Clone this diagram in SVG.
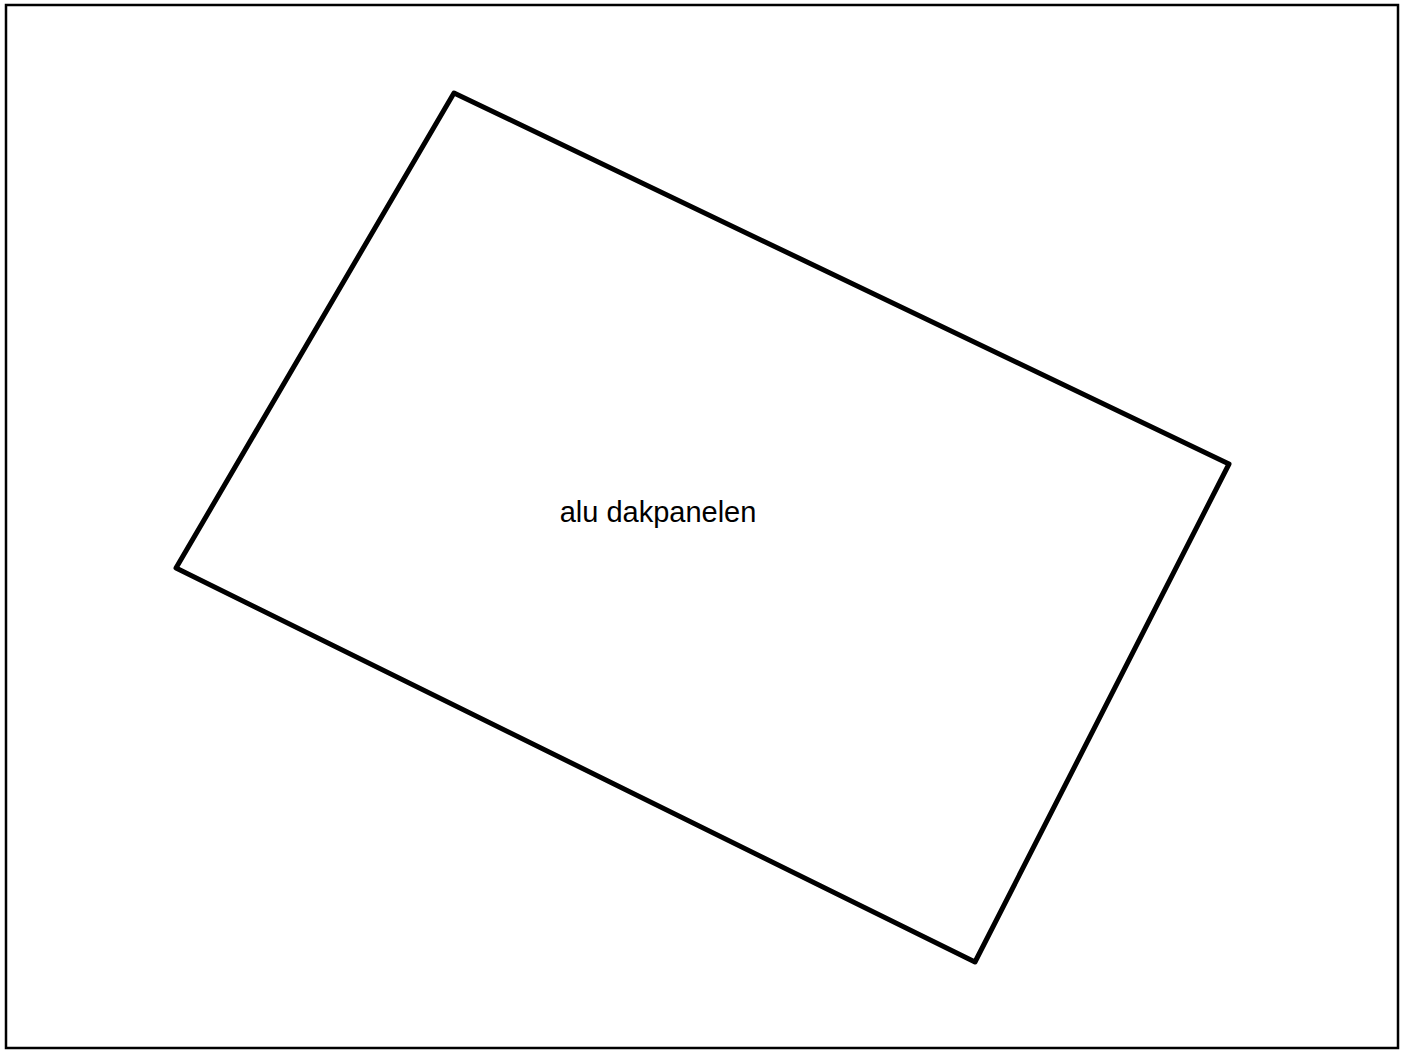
<svg xmlns="http://www.w3.org/2000/svg" width="1408" height="1050" viewBox="0 0 1408 1050">
<style>
.frame{fill:none;stroke:#000;stroke-width:2.5}
.panel{fill:#fff;stroke:#000;stroke-width:5;stroke-linejoin:round}
.lbl{font-family:"Liberation Sans",Arial,sans-serif;font-size:29px;fill:#000;text-anchor:middle}
</style>
<rect width="1408" height="1050" fill="#fff"/>
<rect class="frame" x="6" y="5" width="1392" height="1043"/>
<g id="panel">
<polygon class="panel" points="454,93 1229,464 975,962 176,568"/>
<text class="lbl" x="658" y="522">alu dakpanelen</text>
</g>
<g id="connectors"/>
</svg>
